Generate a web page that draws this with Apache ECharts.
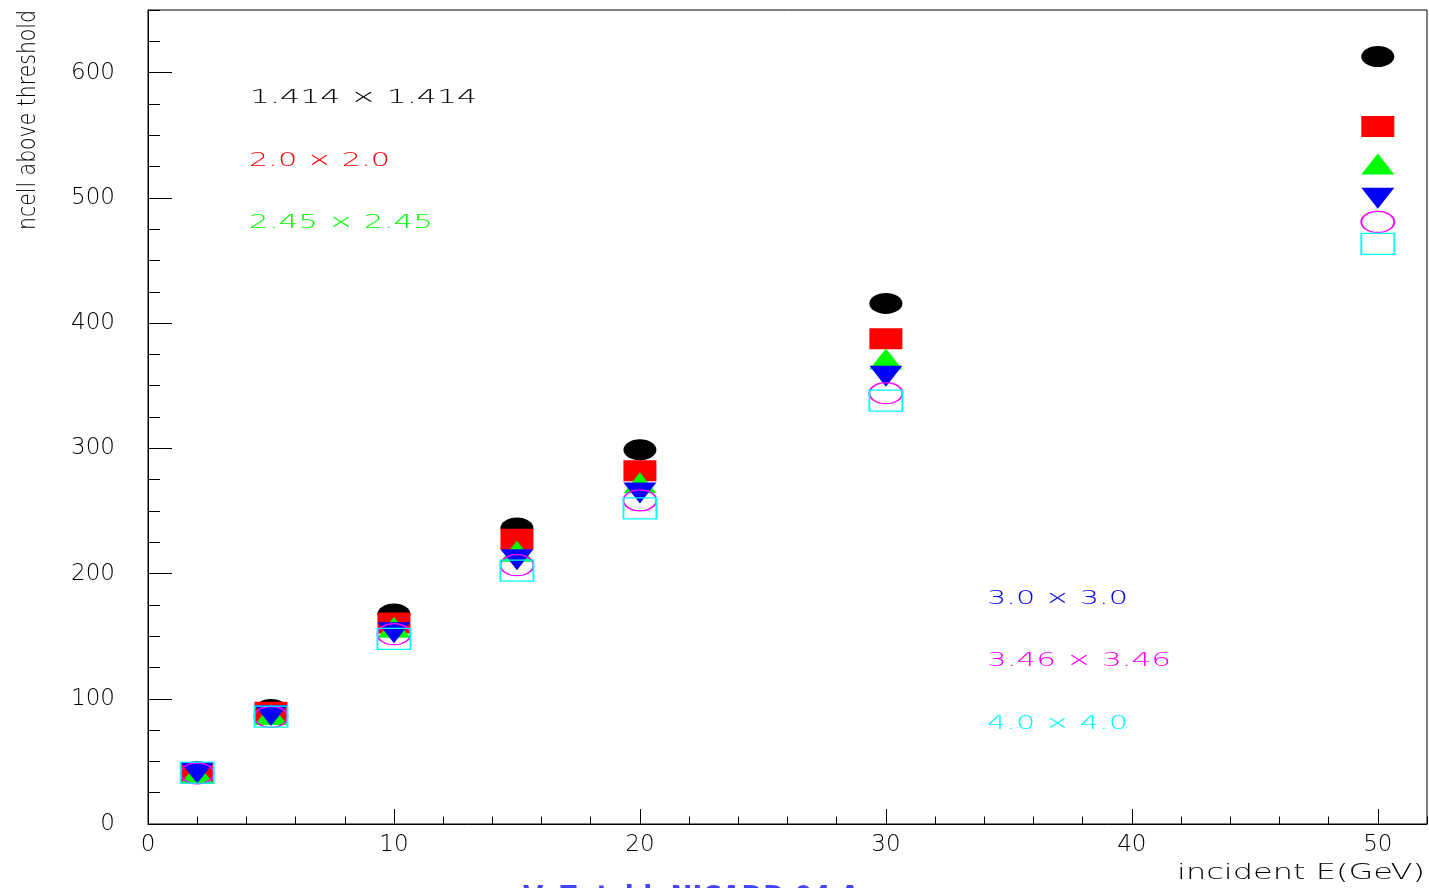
<!DOCTYPE html>
<html>
<head>
<meta charset="utf-8">
<script src="https://cdn.jsdelivr.net/npm/echarts@6/dist/echarts.min.js"></script>
<style>
html,body{margin:0;padding:0;background:#fff;}
#chart{width:1429px;height:888px;}
</style>
</head>
<body>
<div id="chart"></div>
<script>
// ---- data ----
const energies = [2, 5, 10, 15, 20, 30, 50];
const cell1414 = [41.7, 91.4, 167.6, 236.3, 298.8, 415.7, 612.8];
const cell200  = [40.8, 89.2, 160.5, 227.4, 282.0, 387.4, 557.0];
const cell245  = [40.5, 87.4, 157.2, 217.8, 272.5, 371.4, 527.0];
const cell300  = [40.7, 86.6, 152.8, 211.0, 264.4, 357.5, 499.7];
const cell346  = [40.5, 85.6, 151.6, 206.7, 258.5, 344.0, 480.8];
const cell400  = [41.0, 85.7, 147.8, 202.3, 252.0, 338.0, 463.3];
const seriesNames = ['1.414 × 1.414', '2.0 × 2.0', '2.45 × 2.45', '3.0 × 3.0', '3.46 × 3.46', '4.0 × 4.0'];
const xTitle = 'incident E(GeV)';
const yTitle = 'ncell above threshold';
const footer = 'V. Zutshi  NICADD 04 A';

const FONT = '"DejaVu Sans", "Liberation Sans", sans-serif';
const WEIGHT = 200;

const chart = echarts.init(document.getElementById('chart'), null, {renderer: 'canvas'});

const mctx = document.createElement('canvas').getContext('2d');
function scaleFor(text, size, target, weight) {
  mctx.font = (weight || WEIGHT) + ' ' + size + 'px ' + FONT;
  const w = mctx.measureText(text).width;
  return target / w;
}
function label(text, x, y, color, size, target) {
  return {
    type: 'text', x: x, y: y, scaleX: scaleFor(text, size, target), z: 100,
    style: {text: text, fill: color, fontSize: size, fontFamily: FONT, fontWeight: WEIGHT,
            textAlign: 'left', textVerticalAlign: 'middle'}
  };
}

function pairs(vals) { return energies.map((e, i) => [e, vals[i]]); }

const MS = [33, 21];
const series = [
  {name: seriesNames[0], data: pairs(cell1414), symbol: 'circle', color: '#000000'},
  {name: seriesNames[1], data: pairs(cell200), symbol: 'rect', color: '#ff0000'},
  {name: seriesNames[2], data: pairs(cell245), symbol: 'triangle', color: '#00ff00'},
  {name: seriesNames[3], data: pairs(cell300), symbol: 'triangle', rotate: 180, color: '#0000ff'},
  {name: seriesNames[4], data: pairs(cell346), symbol: 'circle', color: '#ff00ff', open: true},
  {name: seriesNames[5], data: pairs(cell400), symbol: 'rect', color: '#00ffff', open: true}
].map((s, i) => ({
  type: 'scatter', name: s.name, data: s.data, xAxisIndex: 0, yAxisIndex: 0,
  symbol: s.symbol, symbolSize: MS, symbolRotate: s.rotate || 0, z: 2 + i,
  itemStyle: s.open ? {color: 'rgba(0,0,0,0)', borderColor: s.color, borderWidth: 1.5, opacity: 1}
                    : {color: s.color, opacity: 1},
  emphasis: {disabled: true}, animation: false
}));

const labelStyle = {color: '#000', fontSize: 23, fontFamily: FONT, fontWeight: WEIGHT};

const option = {
  backgroundColor: '#ffffff',
  animation: false,
  grid: {left: 148, right: 2, top: 10, bottom: 64, show: true, borderColor: '#000', borderWidth: 1, backgroundColor: 'rgba(0,0,0,0)'},
  xAxis: [
    {type: 'value', min: 0, max: 52, interval: 10, position: 'bottom',
     axisLine: {show: true, onZero: false, lineStyle: {color: '#000', width: 1}},
     axisTick: {show: true, inside: true, length: 15, lineStyle: {color: '#000'}},
     axisLabel: Object.assign({margin: 10, showMaxLabel: false}, labelStyle),
     splitLine: {show: false}},
    {type: 'value', min: 0, max: 52, interval: 2, position: 'bottom',
     axisLine: {show: false, onZero: false},
     axisTick: {show: true, inside: true, length: 7.5, lineStyle: {color: '#000'}},
     axisLabel: {show: false}, splitLine: {show: false}}
  ],
  yAxis: [
    {type: 'value', min: 0, max: 650, interval: 100, position: 'left',
     axisLine: {show: true, onZero: false, lineStyle: {color: '#000', width: 1}},
     axisTick: {show: true, inside: true, length: 24, lineStyle: {color: '#000'}},
     axisLabel: Object.assign({margin: 33, showMaxLabel: false, padding: [2, 0, 0, 0]}, labelStyle),
     splitLine: {show: false}},
    {type: 'value', min: 0, max: 650, interval: 25, position: 'left',
     axisLine: {show: false, onZero: false},
     axisTick: {show: true, inside: true, length: 12, lineStyle: {color: '#000'}},
     axisLabel: {show: false}, splitLine: {show: false}}
  ],
  series: series,
  graphic: [
    label(seriesNames[0], 250, 98, '#000000', 20, 227),
    label(seriesNames[1], 249, 161, '#ff0000', 20, 141),
    label(seriesNames[2], 249, 223, '#00ff00', 20, 184),
    label(seriesNames[3], 987, 599, '#0000ff', 20, 141),
    label(seriesNames[4], 987, 661, '#ff00ff', 20, 184),
    label(seriesNames[5], 987, 724, '#00ffff', 20, 141),
    {type: 'text', x: 1425, y: 874, scaleX: scaleFor(xTitle, 21, 248), z: 100,
     style: {text: xTitle, fill: '#000', fontSize: 21, fontFamily: FONT, fontWeight: WEIGHT,
             textAlign: 'right', textVerticalAlign: 'middle'}},
    {type: 'text', x: 29, y: 10, rotation: Math.PI / 2, scaleX: scaleFor(yTitle, 24, 220), z: 100,
     style: {text: yTitle, fill: '#000', fontSize: 24, fontFamily: FONT, fontWeight: WEIGHT,
             textAlign: 'right', textVerticalAlign: 'middle'}},
    {type: 'text', x: 523, y: 884, scaleX: scaleFor(footer, 30, 337, 'bold'), z: 100,
     style: {text: footer, fill: '#4444ff', fontSize: 30, fontFamily: FONT, fontWeight: 'bold',
             textAlign: 'left', textVerticalAlign: 'top'}}
  ]
};
chart.setOption(option);
</script>
</body>
</html>
